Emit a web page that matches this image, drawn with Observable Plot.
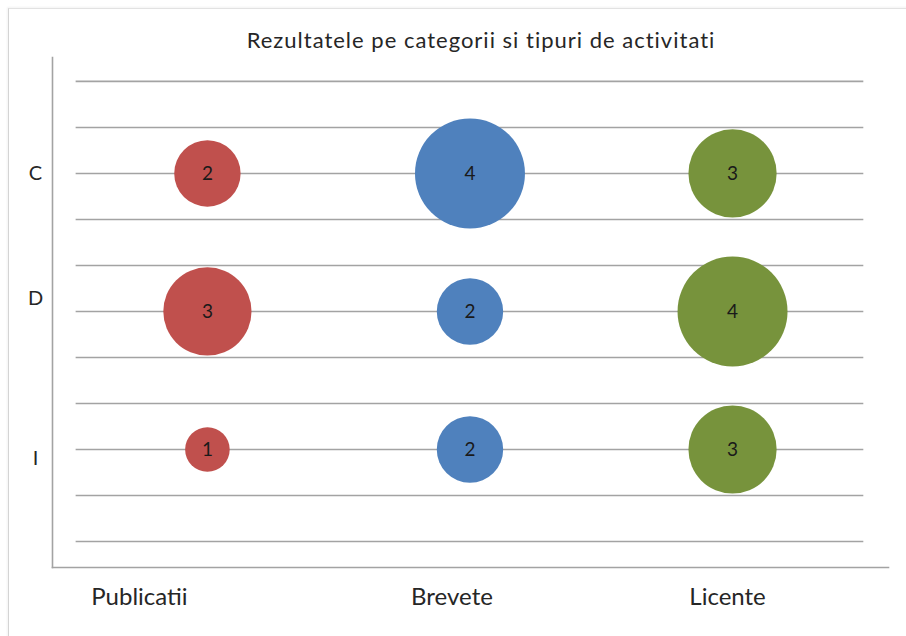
<!DOCTYPE html>
<html>
<head>
<meta charset="utf-8">
<script src="https://cdn.jsdelivr.net/npm/d3@7"></script>
<script src="https://cdn.jsdelivr.net/npm/@observablehq/plot@0.6"></script>
<style>
  html, body { margin: 0; padding: 0; background: #fff; }
  #wrap { position: relative; width: 906px; height: 636px; overflow: hidden; font-family: Lato, "Open Sans", sans-serif; }
  #frame { position: absolute; left: 8px; top: 8px; width: 1000px; height: 1000px;
           border-left: 1px solid #d4d4d4; border-top: 1px solid #e2e2e2; box-shadow: -1px -1px 2px rgba(0,0,0,0.05); }
  #title { position: absolute; left: 0; top: 0; width: 962px; height: 57px; text-align: center;
           font-size: 22px; letter-spacing: 1px; line-height: 22px; padding-top: 29px; box-sizing: border-box; color: #262626; }
  #chart { position: absolute; left: 0; top: 57px; }
</style>
</head>
<body>
<div id="wrap">
  <div id="frame"></div>
  <div id="title">Rezultatele pe categorii si tipuri de activitati</div>
  <div id="chart"></div>
</div>
<script>
// Data
const activities = ["Publicatii", "Brevete", "Licente"];
const categories = ["C", "D", "I"];
const publicatii = [2, 3, 1];   // C, D, I
const brevete    = [4, 2, 2];
const licente    = [3, 4, 3];
const colors = ["#C0504D", "#4F81BD", "#77933C"];
const gridTicks = [0, 1, 2, 3, 4, 5, 6, 7, 8, 9, 10];
const categoryY = [8, 5, 2]; // y values of C, D, I on the 0–10 value axis

const series = [publicatii, brevete, licente];
const data = [];
activities.forEach((a, i) => {
  categories.forEach((c, j) => {
    data.push({activity: a, ax: i + 1, category: c, cy: categoryY[j], value: series[i][j], color: colors[i]});
  });
});

// label nudges (styling offsets of the original text boxes)
const xLabelShift = {Publicatii: -68, Brevete: -18, Licente: -5};
const yLabelShift = {C: 0, D: -13, I: 9};

const fontFamily = "Lato, 'Open Sans', sans-serif";

const marks = [
  Plot.ruleY(gridTicks, {x1: 0.5, x2: 3.5, stroke: "#a3a3a3", strokeWidth: 1.6}),
  Plot.frame({anchor: "left", stroke: "#a3a3a3", strokeWidth: 1.6}),
  Plot.frame({anchor: "bottom", stroke: "#a3a3a3", strokeWidth: 1.6}),
  Plot.dot(data, {x: "ax", y: "cy", r: "value", fill: "color", stroke: "none"}),
  Plot.text(data, {x: "ax", y: "cy", text: d => String(d.value), fontSize: 19, fill: "#1a1a1a", fontFamily})
];
activities.forEach((a, i) => {
  marks.push(Plot.axisX([i + 1], {
    anchor: "bottom", tickSize: 0, tickPadding: 20, dx: xLabelShift[a], label: null,
    tickFormat: () => a, fontSize: 24, fill: "#262626", fontFamily, style: {letterSpacing: "0.7px"}
  }));
});
categories.forEach((c, j) => {
  marks.push(Plot.axisY([categoryY[j]], {
    anchor: "left", tickSize: 0, tickPadding: 17, dy: yLabelShift[c], textAnchor: "middle", label: null,
    tickFormat: () => c, fontSize: 20, fill: "#262626", fontFamily
  }));
});

const chart = Plot.plot({
  width: 906,
  height: 579,
  marginLeft: 52,
  marginRight: 18,
  marginTop: 0,
  marginBottom: 69,
  style: {fontFamily, background: "transparent", overflow: "visible"},
  x: {type: "linear", domain: [0.41, 3.594], axis: null},
  y: {type: "linear", domain: [-0.565, 10.52], axis: null},
  r: {type: "linear", domain: [0, 4], range: [11.4, 55]},
  marks
});
document.getElementById("chart").appendChild(chart);
</script>
</body>
</html>
